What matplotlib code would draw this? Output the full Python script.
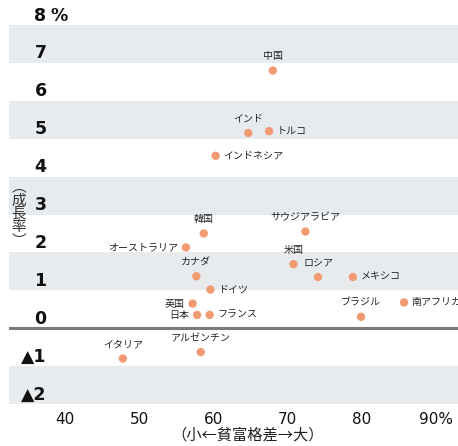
import matplotlib
matplotlib.use("Agg")
import matplotlib.pyplot as plt

plt.rcParams['font.family'] = ['Noto Sans CJK JP', 'DejaVu Sans']

# Countries: inequality (x, %) vs growth rate (y, %)
countries = ["中国", "インド", "トルコ", "インドネシア", "サウジアラビア", "韓国",
             "オーストラリア", "カナダ", "ドイツ", "英国", "日本", "フランス",
             "イタリア", "アルゼンチン", "米国", "ロシア", "メキシコ", "ブラジル",
             "南アフリカ"]
inequality = [68.0, 64.7, 67.5, 60.3, 72.4, 58.7, 56.3, 57.7, 59.6, 57.2, 57.8,
              59.5, 47.8, 58.3, 70.8, 74.1, 78.8, 79.9, 85.7]
growth = [6.8, 5.15, 5.2, 4.55, 2.55, 2.5, 2.13, 1.37, 1.02, 0.65, 0.35, 0.35,
          -0.8, -0.63, 1.69, 1.35, 1.35, 0.3, 0.68]
# label placement: 'a' above, 'r' right, 'l' left
placement = ["a", "a", "r", "r", "a", "a", "l", "a", "r", "l", "l", "r",
             "a", "a", "a", "a", "r", "a", "r"]

x_ticks = [40, 50, 60, 70, 80, 90]
x_tick_labels = ["40", "50", "60", "70", "80", "90%"]
y_ticks = [8, 7, 6, 5, 4, 3, 2, 1, 0, -1, -2]
y_tick_labels = ["8", "7", "6", "5", "4", "3", "2", "1", "0", "▲1", "▲2"]

W, H = 458, 446
fig = plt.figure(figsize=(W / 100, H / 100), dpi=100)

# axes placed in pixel terms: x from 9 to 458, y from 25 (=8) to 404 (=-2)
px_per_x = 7.42
x_left = 40 + (9 - 65) / px_per_x
x_right = 40 + (458 - 65) / px_per_x
ax = fig.add_axes([9 / W, (H - 404) / H, (458 - 9) / W, (404 - 25) / H])
ax.set_xlim(x_left, x_right)
ax.set_ylim(-2, 8)
ax.axis("off")

band = "#e8ebee"
for lo in (7, 5, 3, 1, -2):
    ax.axhspan(lo, lo + 1, color=band, lw=0, zorder=0)
ax.axhline(0, color="#7a7a7a", lw=2.2, zorder=1)

# y tick labels sit just above their gridline
for v, t in zip(y_ticks, y_tick_labels):
    ax.text(40 + (46.5 - 65) / px_per_x, v + 0.25, t, ha="right", va="center",
            fontsize=12.5, fontweight="bold", color="#111111",
            family=["DejaVu Sans", "Noto Sans CJK JP"], clip_on=False)
ax.text(40 + (50 - 65) / px_per_x, 8 + 0.25, "%", ha="left", va="center",
        fontsize=12.5, fontweight="bold", color="#111111",
        family=["DejaVu Sans"], clip_on=False)

# x tick labels below the plot
for v, t in zip(x_ticks, x_tick_labels):
    ax.text(v, -2.4, t, ha="center", va="center", fontsize=11,
            color="#111111", family=["DejaVu Sans"], clip_on=False)

fig.text(248 / W, 1 - 435 / H, "（小←貧富格差→大）", ha="center", va="center",
         fontsize=11, color="#222222")
fig.text(19 / W, 1 - 214 / H, "︵\n成\n長\n率\n︶", ha="center", va="center",
         fontsize=10.5, color="#333333", linespacing=0.95)

ax.scatter(inequality, growth, s=36, color="#f29a72", edgecolors="none", zorder=3)

offsets = {"a": (0, 6.5), "r": (5.5, 0), "l": (-5.5, 0)}
aligns = {"a": ("center", "bottom"), "r": ("left", "center"), "l": ("right", "center")}
for name, xv, yv, p in zip(countries, inequality, growth, placement):
    ha, va = aligns[p]
    ax.annotate(name, (xv, yv), xytext=offsets[p], textcoords="offset points",
                ha=ha, va=va, fontsize=7.2, color="#222222", annotation_clip=False)

fig.savefig("out.png", dpi=100)
